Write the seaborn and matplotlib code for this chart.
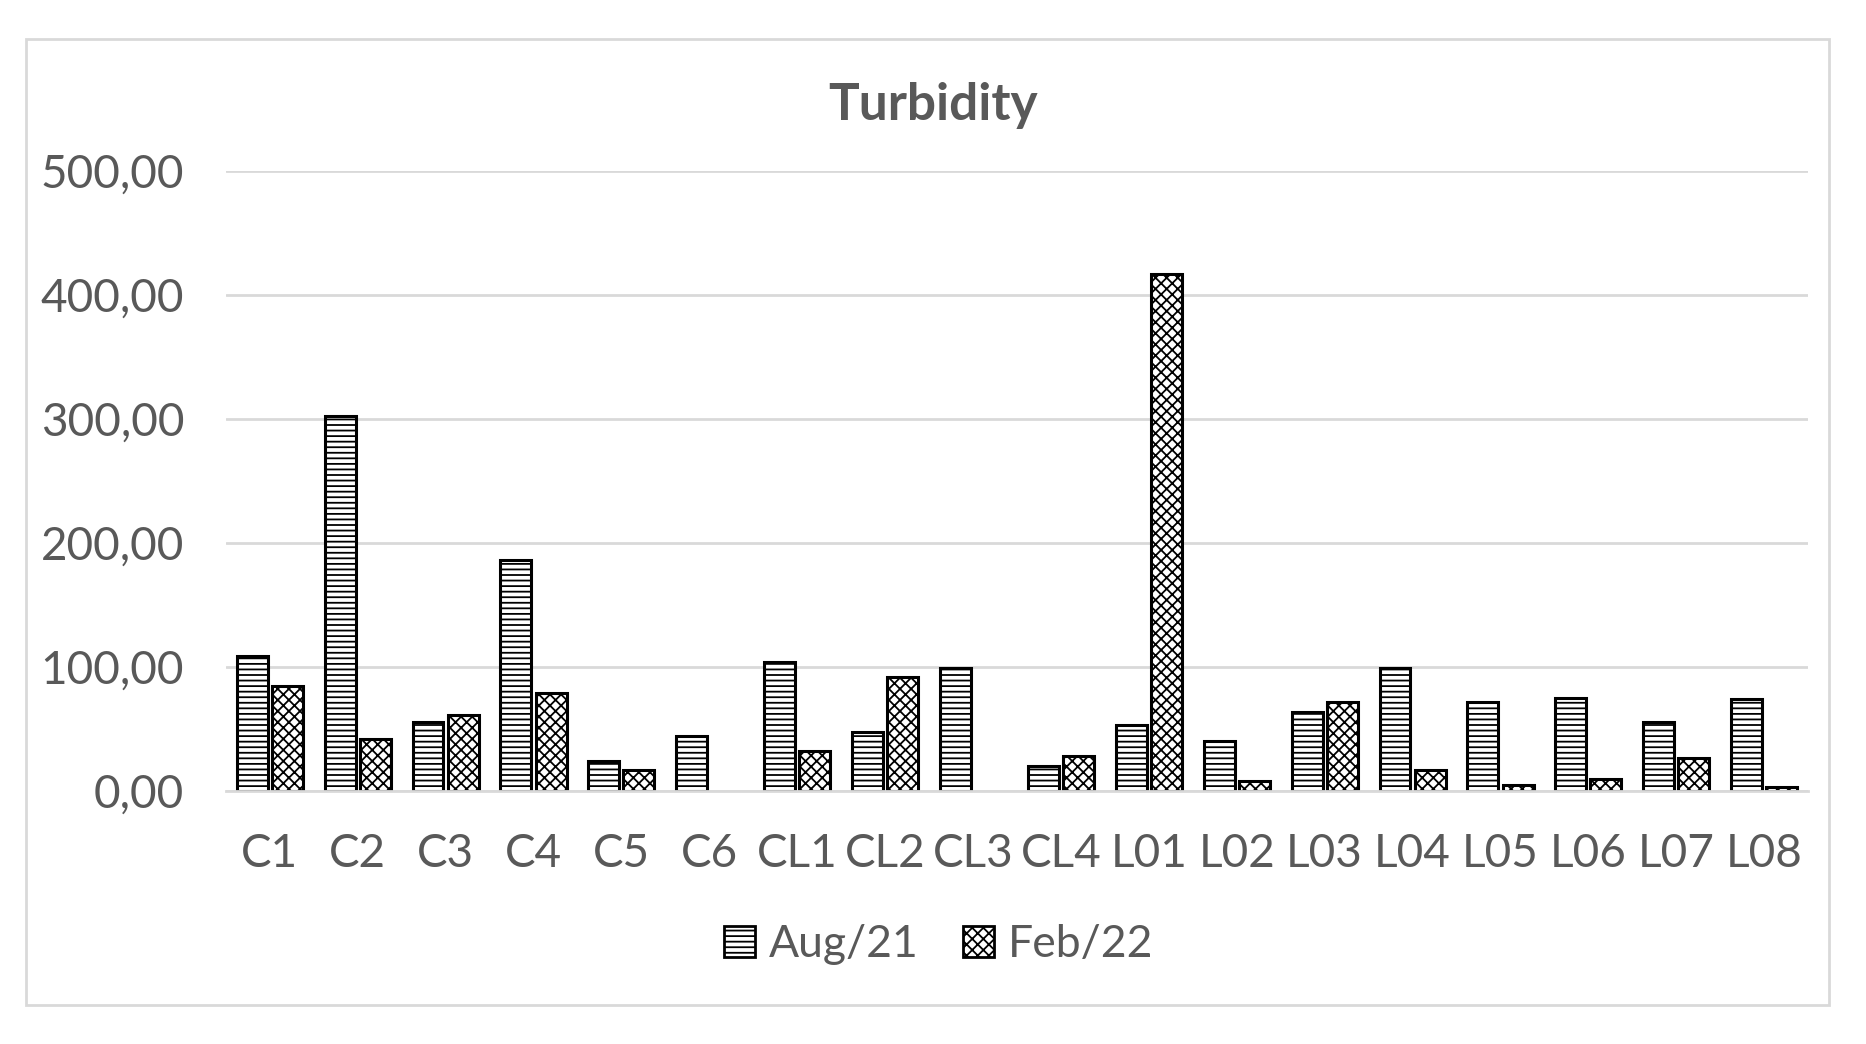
import pandas as pd
import numpy as np
import matplotlib.pyplot as plt
import seaborn as sns
from matplotlib.patches import Patch, Rectangle
from matplotlib.ticker import FuncFormatter

# data
sites = ['C1', 'C2', 'C3', 'C4', 'C5', 'C6', 'CL1', 'CL2', 'CL3', 'CL4',
         'L01', 'L02', 'L03', 'L04', 'L05', 'L06', 'L07', 'L08']
aug21 = [109, 302, 56, 186, 24, 44, 104, 48, 99, 20,
         53, 40, 64, 99, 72, 75, 56, 74]
feb22 = [85, 42, 61, 79, 17, np.nan, 32, 92, np.nan, 28,
         417, 8, 72, 17, 5, 10, 27, 3]
series = ['Aug/21', 'Feb/22']

df = pd.DataFrame({'Site': sites * 2,
                   'Turbidity': aug21 + feb22,
                   'Campaign': [series[0]] * len(sites) + [series[1]] * len(sites)})

sns.set_style('white')
plt.rcParams['font.family'] = ['Lato', 'DejaVu Sans']
plt.rcParams['hatch.linewidth'] = 1.3
grey = '#595959'

fig = plt.figure(figsize=(18.66, 10.44), dpi=100)
ax = fig.add_axes([0.121, 0.2423, 0.848, 0.594])

sns.barplot(data=df, x='Site', y='Turbidity', hue='Campaign', hue_order=series,
            order=sites, width=0.8, gap=0.12, ax=ax, legend=False)

hatches = ['---', 'xxx']
for cont, h in zip(ax.containers, hatches):
    for bar in cont:
        bar.set_facecolor('white')
        bar.set_edgecolor('black')
        bar.set_linewidth(2.2)
        bar.set_hatch(h)

ax.set_ylim(0, 500)
ax.set_yticks(range(0, 501, 100))
ax.yaxis.set_major_formatter(FuncFormatter(lambda v, p: f'{v:.2f}'.replace('.', ',')))
ax.grid(axis='y', color='#d9d9d9', linewidth=2)
ax.set_axisbelow(True)
for s in ['top', 'right', 'left']:
    ax.spines[s].set_visible(False)
ax.spines['bottom'].set_color('#d9d9d9')
ax.spines['bottom'].set_linewidth(2)
ax.set_xlabel('')
ax.set_ylabel('')
ax.tick_params(axis='both', length=0, labelsize=33, colors=grey)
ax.tick_params(axis='y', pad=30)
ax.tick_params(axis='x', pad=30)

fig.text(0.5, 0.899, 'Turbidity', ha='center', va='center', fontsize=37,
         fontweight='bold', color=grey)

handles = [Patch(facecolor='white', edgecolor='black', linewidth=2, hatch=h) for h in hatches]
fig.legend(handles, series, loc='center', bbox_to_anchor=(0.503, 0.095), ncol=2,
           frameon=False, fontsize=32, labelcolor=grey, handlelength=0.7,
           handleheight=0.7, handletextpad=0.3, columnspacing=1.0)

fig.patches.append(Rectangle((0.014, 0.037), 0.966, 0.926, transform=fig.transFigure,
                             fill=False, edgecolor='#d9d9d9', linewidth=2))

fig.savefig('out.png', dpi=100, facecolor='white')
